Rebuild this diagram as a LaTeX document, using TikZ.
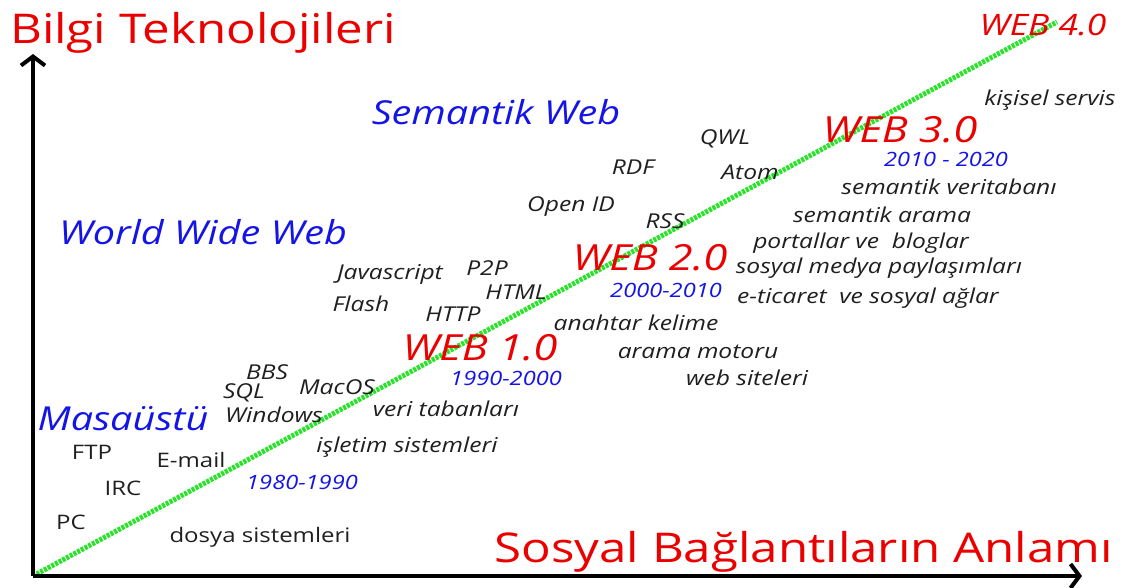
\documentclass[tikz,border=0pt]{standalone}
\usepackage{fontspec}
\setmainfont{Open Sans}[FakeStretch=1.2]
\usetikzlibrary{arrows.meta,positioning}

\definecolor{webred}{RGB}{235,0,0}
\definecolor{webblue}{RGB}{20,20,230}
\definecolor{webgreen}{RGB}{40,228,40}

\tikzset{
  axis/.style={line width=4pt, -{Straight Barb[length=9pt,width=24pt]}},
  trend/.style={webgreen, line width=5pt, dash pattern=on 3pt off 1.2pt},
  axislabel/.style={text=webred, font=\fontsize{41}{44}\selectfont, inner sep=0pt},
  era/.style={text=webred, font=\fontsize{36}{39}\selectfont\itshape, inner sep=0pt},
  period/.style={text=webblue, font=\fontsize{19.7}{22}\selectfont\itshape, inner sep=0pt},
  stage/.style={text=webblue, font=\fontsize{33}{36}\selectfont\itshape, inner sep=0pt},
  term/.style={text=black!88, font=\fontsize{20.5}{23}\selectfont\itshape, inner sep=0pt},
  termup/.style={text=black!88, font=\fontsize{20}{23}\selectfont, inner sep=0pt}
}

\begin{document}
\begin{tikzpicture}[x=1pt, y=-1pt]
  \useasboundingbox (0,0) rectangle (1121,587);

  % axes and trend line
  \coordinate (origin) at (33,576);
  \coordinate (ytip) at (33,54);
  \coordinate (xtip) at (1082,576);
  \coordinate (w4) at (1057,22);
  \draw[trend] (origin) -- (w4);
  \draw[axis] (origin) -- (ytip);
  \draw[axis] (origin) -- (xtip);

  \node[axislabel, anchor=west] (yl) at (10,33) {Bilgi Teknolojileri};
  \node[axislabel, anchor=east] (xl) at (1113,552) {Sosyal Bağlantıların Anlamı};

  % stages
  \node[stage] (sem) at (496,112) {Semantik Web};
  \node[stage] (www) at (203,232) {World Wide Web};
  \node[stage] (desk) at (123,419) {Masaüstü};

  % web versions
  \node[era, font=\fontsize{29.5}{32}\selectfont\itshape] (web4) at (1043,25) {WEB 4.0};
  \node[era] (web3) at (900,130) {WEB 3.0};
  \node[era] (web2) at (650,258) {WEB 2.0};
  \node[era] (web1) at (480,348) {WEB 1.0};

  \node[period] (p3) at (946,159) {2010 - 2020};
  \node[period] (p2) at (666,290) {2000-2010};
  \node[period] (p1) at (506,378) {1990-2000};
  \node[period] (p0) at (302,482) {1980-1990};

  % terms
  \foreach \x/\y/\n/\t in {%
      1050/100/kis/kişisel servis,
      725/139/qwl/QWL,
      633/167/rdf/RDF,
      750/172/atom/Atom,
      571/207/oid/Open ID,
      665/221/rss/RSS,
      949/187/sdb/semantik veritabanı,
      882/215/sar/semantik arama,
      861/243/pb/portallar ve\ \ bloglar,
      879/268/smp/sosyal medya paylaşımları,
      868/298/etc/e-ticaret\ \ ve sosyal ağlar,
      390/274/js/Javascript,
      487/268/p2p/P2P,
      516/292/html/HTML,
      361/304/fl/Flash,
      453/314/http/HTTP,
      636/323/ak/anahtar kelime,
      698/352/am/arama motoru,
      747/378/ws/web siteleri,
      267/372/bbs/BBS,
      244/393/sql/SQL,
      337/387/mac/MacOS,
      274/415/win/Windows,
      446/409/vt/veri tabanları,
      407/447/is/işletim sistemleri%
      }
      \node[term] (\n) at (\x,\y) {\t};

  \foreach \x/\y/\n/\t in {%
      92/452/ftp/FTP,
      191/460/mail/E-mail,
      123/488/irc/IRC,
      71/522/pc/PC,
      260/537/ds/dosya sistemleri%
      }
      \node[termup] (\n) at (\x,\y) {\t};
\end{tikzpicture}
\end{document}
